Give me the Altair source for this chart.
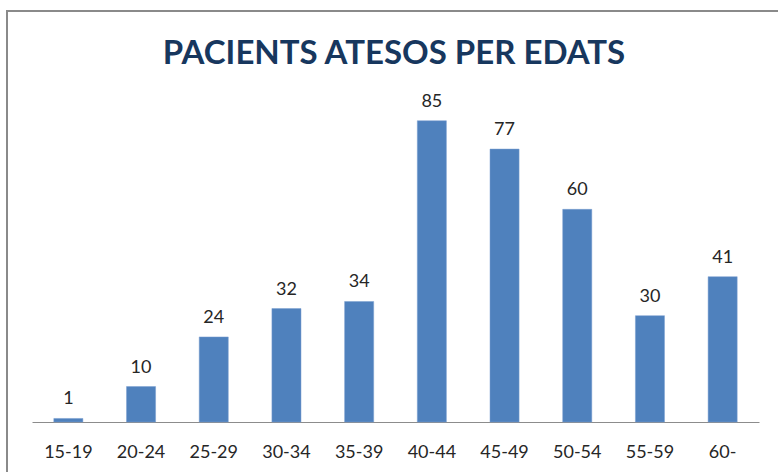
import altair as alt
import pandas as pd

categories = ["15-19", "20-24", "25-29", "30-34", "35-39", "40-44", "45-49", "50-54", "55-59", "60-"]
patients = [1, 10, 24, 32, 34, 85, 77, 60, 30, 41]
title_text = "PACIENTS ATESOS PER EDATS"

df = pd.DataFrame({"edat": categories, "pacients": patients})

FONT = "Lato"
x = alt.X("edat:N", sort=categories, title=None,
          scale=alt.Scale(paddingInner=0.6, paddingOuter=0.3),
          axis=alt.Axis(labelAngle=0, ticks=False, domainColor="#8c8c8c", domainWidth=1,
                        labelFont=FONT, labelFontSize=18, labelColor="#262626",
                        labelPadding=21, grid=False))
y = alt.Y("pacients:Q", title=None, scale=alt.Scale(domain=[0, 90]), axis=None)

bars = alt.Chart(df).mark_bar(color="#4F81BD", stroke="#7A9ED0", strokeWidth=0.5).encode(x=x, y=y)
labels = alt.Chart(df).mark_text(baseline="bottom", dy=-10, font=FONT, fontSize=18,
                                 color="#262626").encode(x=x, y=y, text="pacients:Q")
border = alt.Chart(df).mark_rect(fill="transparent", stroke="#8a8a8a", strokeWidth=2).encode(
    x=alt.value(-25), x2=alt.value(820), y=alt.value(-92), y2=alt.value(500))
title = alt.Chart(pd.DataFrame({"t": [title_text]})).mark_text(
    font=FONT, fontSize=33, fontWeight="bold", color="#17375E",
    align="center", baseline="alphabetic").encode(
    x=alt.value(362), y=alt.value(-39), text="t:N")

chart = alt.layer(border, bars, labels, title).properties(
    width=727, height=319,
    background="white",
    autosize=alt.AutoSizeParams(type="none"),
    padding={"left": 32, "top": 103, "right": 19, "bottom": 50},
).configure_view(stroke=None, strokeWidth=0)

chart.save("out.html", embed_options={"renderer": "svg", "actions": False})
